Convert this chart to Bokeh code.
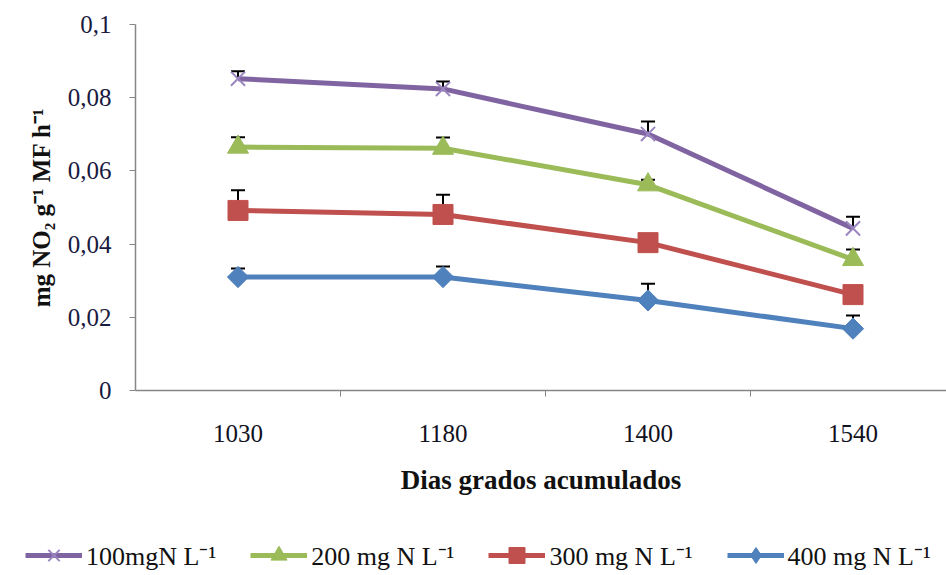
import math
from bokeh.plotting import figure
from bokeh.layouts import column
from bokeh.models import (FixedTicker, Whisker, TeeHead, ColumnDataSource, Legend,
                          LegendItem, Range1d)
from bokeh.embed import file_html
from bokeh.resources import INLINE

days = ["1030", "1180", "1400", "1540"]
n100 = [0.0852, 0.0824, 0.0701, 0.0443]
n200 = [0.0665, 0.0662, 0.0562, 0.0358]
n300 = [0.0492, 0.0481, 0.0404, 0.0262]
n400 = [0.0310, 0.0310, 0.0246, 0.0169]
e100 = [0.0020, 0.0020, 0.0034, 0.0032]
e200 = [0.0027, 0.0029, 0.0014, 0.0027]
e300 = [0.0055, 0.0054, 0.0015, 0.0015]
e400 = [0.0023, 0.0029, 0.0046, 0.0036]
yticks = [0, 0.02, 0.04, 0.06, 0.08, 0.1]
ytick_labels = ["0", "0,02", "0,04", "0,06", "0,08", "0,1"]
labels = ["100mgN L\u207b\u00b9", "200 mg N L\u207b\u00b9", "300 mg N L\u207b\u00b9", "400 mg N L\u207b\u00b9"]
colors = ["#8064A2", "#9BBB59", "#C0504D", "#4F81BD"]
markers = ["x", "triangle", "square", "square"]
legend_markers = ["x", "triangle", "square", "diamond"]
msizes = [20, 21, 20, 15]
angles = [0, 0, 0, math.pi / 4]

FONT = "Liberation Serif"
xs = [i + 0.5 for i in range(len(days))]

p = figure(width=946, height=525, output_backend="svg", toolbar_location=None,
           x_range=Range1d(0, 3.956), y_range=Range1d(0, 0.1),
           min_border_left=135, min_border_right=0, min_border_top=24,
           min_border_bottom=135)
p.frame_align = False
p.grid.visible = False
p.outline_line_color = None

xa = p.xaxis[0]
xa.ticker = FixedTicker(ticks=xs, minor_ticks=[1, 2, 3])
xa.major_label_overrides = {x: d for x, d in zip(xs, days)}
xa.major_tick_line_color = None
xa.minor_tick_line_color = "#868686"
xa.minor_tick_out = 6
xa.minor_tick_in = 0
xa.axis_line_color = "#868686"
xa.axis_line_width = 1.5
xa.major_label_text_font = FONT
xa.major_label_text_font_size = "25px"
xa.major_label_text_color = "#111122"
xa.major_label_standoff = 28
xa.axis_label = "Dias grados acumulados"
xa.axis_label_text_font = FONT
xa.axis_label_text_font_style = "bold"
xa.axis_label_text_font_size = "27px"
xa.axis_label_text_color = "#111111"
xa.axis_label_standoff = 20

ya = p.yaxis[0]
ya.ticker = FixedTicker(ticks=yticks, minor_ticks=[])
ya.major_label_overrides = {t: l for t, l in zip(yticks, ytick_labels)}
ya.major_tick_line_color = "#868686"
ya.major_tick_out = 6
ya.major_tick_in = 0
ya.axis_line_color = "#868686"
ya.axis_line_width = 1.5
ya.major_label_text_font = FONT
ya.major_label_text_font_size = "25px"
ya.major_label_text_color = "#1a1a40"
ya.major_label_standoff = 18
ya.axis_label = "mg NO\u2082 g\u207b\u00b9 MF h\u207b\u00b9"
ya.axis_label_text_font = FONT
ya.axis_label_text_font_style = "bold"
ya.axis_label_text_font_size = "25px"
ya.axis_label_text_color = "#111111"
ya.axis_label_standoff = 10

for vals, errs in zip([n100, n200, n300, n400], [e100, e200, e300, e400]):
    src = ColumnDataSource(dict(x=xs, y=vals, upper=[v + e for v, e in zip(vals, errs)]))
    w = Whisker(source=src, base="x", upper="upper", lower="y",
                upper_head=TeeHead(size=14, line_color="black", line_width=2),
                lower_head=None, line_color="black", line_width=2)
    p.add_layout(w)


def draw(fig, vals, col, mk, ms, ang, visible=True):
    src = ColumnDataSource(dict(x=xs, y=vals))
    ln = fig.line("x", "y", source=src, line_color=col, line_width=5, visible=visible)
    if mk == "x":
        sc = fig.scatter("x", "y", source=src, marker=mk, size=ms, line_color="#9A85C0",
                         line_width=2, visible=visible)
    else:
        sc = fig.scatter("x", "y", source=src, marker=mk, size=ms, angle=ang, fill_color=col,
                         line_color=col, line_width=1, visible=visible)
    return ln, sc


for vals, col, mk, ms, ang in zip([n100, n200, n300, n400], colors, markers, msizes, angles):
    draw(p, vals, col, mk, ms, ang)

# legend panel below the chart
lf = figure(width=946, height=50, output_backend="svg", toolbar_location=None,
            x_axis_type=None, y_axis_type=None, min_border=0)
lf.frame_align = False
lf.grid.visible = False
lf.outline_line_color = None
items = []
for vals, col, mk, ms, lab in zip([n100, n200, n300, n400], colors, legend_markers, msizes,
                                  labels):
    ln, sc = draw(lf, vals, col, mk, ms, 0, visible=False)
    items.append(LegendItem(label=lab, renderers=[ln, sc]))

leg = Legend(items=items, orientation="horizontal", location=(25, 0),
             label_text_font=FONT, label_text_font_size="26px", label_text_color="#111111",
             glyph_width=57, glyph_height=40, label_standoff=4, spacing=34,
             border_line_color=None, background_fill_alpha=0, padding=0, margin=0,
             click_policy="none")
lf.add_layout(leg)

layout = column(p, lf, spacing=0)
open("out.html", "w").write(file_html(layout, INLINE))
